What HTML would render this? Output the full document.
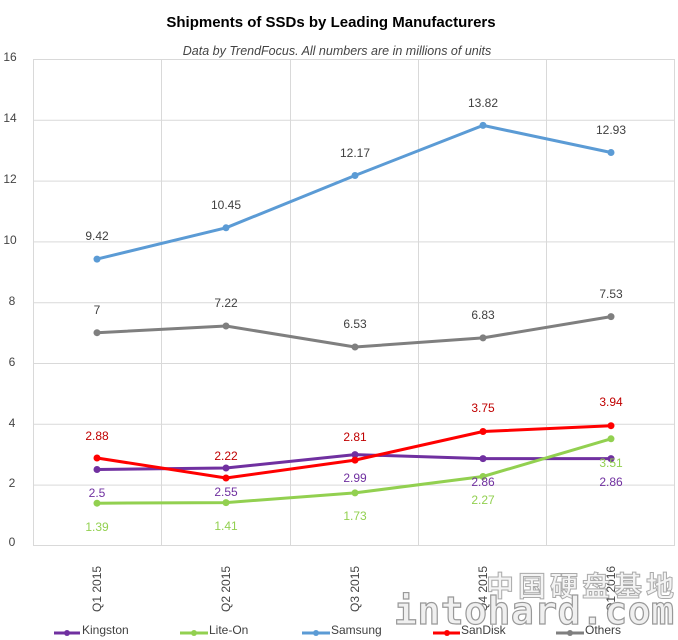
<!DOCTYPE html>
<html><head><meta charset="utf-8"><style>
body{margin:0;background:#fff;width:678px;height:640px;overflow:hidden}
svg{display:block;font-family:"Liberation Sans","Noto Sans CJK SC",sans-serif}
</style></head><body>
<svg width="678" height="640" viewBox="0 0 678 640">
<text x="331" y="27" text-anchor="middle" font-size="15" font-weight="bold" fill="#000">Shipments of SSDs by Leading Manufacturers</text>
<text x="337" y="55" text-anchor="middle" font-size="12.5" font-style="italic" fill="#444">Data by TrendFocus. All numbers are in millions of units</text>
<g stroke="#d9d9d9" stroke-width="1" fill="none">
<line x1="33" y1="59.5" x2="674" y2="59.5"/><line x1="33" y1="120.3" x2="674" y2="120.3"/><line x1="33" y1="181.1" x2="674" y2="181.1"/><line x1="33" y1="241.9" x2="674" y2="241.9"/><line x1="33" y1="302.7" x2="674" y2="302.7"/><line x1="33" y1="363.5" x2="674" y2="363.5"/><line x1="33" y1="424.3" x2="674" y2="424.3"/><line x1="33" y1="485.1" x2="674" y2="485.1"/><line x1="33" y1="545.5" x2="674" y2="545.5"/>
<line x1="33.5" y1="59" x2="33.5" y2="546"/><line x1="161.5" y1="59" x2="161.5" y2="546"/><line x1="290.5" y1="59" x2="290.5" y2="546"/><line x1="418.5" y1="59" x2="418.5" y2="546"/><line x1="546.5" y1="59" x2="546.5" y2="546"/><line x1="674.5" y1="59" x2="674.5" y2="546"/>
</g>
<g font-size="12" fill="#444" text-anchor="middle">
<text x="10" y="61">16</text><text x="10" y="122">14</text><text x="10" y="183">12</text><text x="10" y="244">10</text><text x="12" y="305">8</text><text x="12" y="366">6</text><text x="12" y="427">4</text><text x="12" y="487">2</text><text x="12" y="546">0</text>
</g>
<g font-size="12" fill="#444">
<text transform="translate(101,612) rotate(-90)">Q1 2015</text>
<text transform="translate(230,612) rotate(-90)">Q2 2015</text>
<text transform="translate(359,612) rotate(-90)">Q3 2015</text>
<text transform="translate(487,612) rotate(-90)">Q4 2015</text>
<text transform="translate(615,612) rotate(-90)">Q1 2016</text>
</g>
<g fill="none" stroke-width="3" stroke-linejoin="round">
<polyline stroke="#5b9bd5" points="97,259.1 226,227.8 355,175.5 483,125.4 611,152.5"/>
<polyline stroke="#7f7f7f" points="97,332.7 226,326 355,347 483,337.9 611,316.6"/>
<polyline stroke="#7030a0" points="97,469.5 226,468 355,454.6 483,458.6 611,458.6"/>
<polyline stroke="#ff0000" points="97,458 226,478 355,460.1 483,431.5 611,425.7"/>
<polyline stroke="#92d050" points="97,503.2 226,502.6 355,492.9 483,476.5 611,438.8"/>
</g>
<g fill="#5b9bd5"><circle cx="97" cy="259.1" r="3.5"/><circle cx="226" cy="227.8" r="3.5"/><circle cx="355" cy="175.5" r="3.5"/><circle cx="483" cy="125.4" r="3.5"/><circle cx="611" cy="152.5" r="3.5"/></g>
<g fill="#7f7f7f"><circle cx="97" cy="332.7" r="3.5"/><circle cx="226" cy="326" r="3.5"/><circle cx="355" cy="347" r="3.5"/><circle cx="483" cy="337.9" r="3.5"/><circle cx="611" cy="316.6" r="3.5"/></g>
<g fill="#7030a0"><circle cx="97" cy="469.5" r="3.5"/><circle cx="226" cy="468" r="3.5"/><circle cx="355" cy="454.6" r="3.5"/><circle cx="483" cy="458.6" r="3.5"/><circle cx="611" cy="458.6" r="3.5"/></g>
<g fill="#ff0000"><circle cx="97" cy="458" r="3.5"/><circle cx="226" cy="478" r="3.5"/><circle cx="355" cy="460.1" r="3.5"/><circle cx="483" cy="431.5" r="3.5"/><circle cx="611" cy="425.7" r="3.5"/></g>
<g fill="#92d050"><circle cx="97" cy="503.2" r="3.5"/><circle cx="226" cy="502.6" r="3.5"/><circle cx="355" cy="492.9" r="3.5"/><circle cx="483" cy="476.5" r="3.5"/><circle cx="611" cy="438.8" r="3.5"/></g>
<g font-size="12" text-anchor="middle">
<g fill="#404040"><text x="97" y="240">9.42</text><text x="226" y="209">10.45</text><text x="355" y="157">12.17</text><text x="483" y="107">13.82</text><text x="611" y="134">12.93</text>
<text x="97" y="314">7</text><text x="226" y="307">7.22</text><text x="355" y="328">6.53</text><text x="483" y="319">6.83</text><text x="611" y="298">7.53</text></g>
<g fill="#c00000"><text x="97" y="440">2.88</text><text x="226" y="460">2.22</text><text x="355" y="441">2.81</text><text x="483" y="412">3.75</text><text x="611" y="406">3.94</text></g>
<g fill="#7030a0"><text x="97" y="497">2.5</text><text x="226" y="496">2.55</text><text x="355" y="482">2.99</text><text x="483" y="486">2.86</text><text x="611" y="486">2.86</text></g>
<g fill="#92d050"><text x="97" y="531">1.39</text><text x="226" y="530">1.41</text><text x="355" y="520">1.73</text><text x="483" y="504">2.27</text><text x="611" y="467">3.51</text></g>
</g>
<g font-family="'Noto Sans CJK SC',sans-serif" font-weight="bold" fill="#f4f4f4" stroke="#aaa" stroke-width="1">
<text x="486" y="596" font-size="28" letter-spacing="4">中国硬盘基地</text>
</g>
<g font-family="'DejaVu Sans Mono',monospace" font-size="38" font-weight="bold" fill="#f0f0f0" stroke="#999" stroke-width="1.2">
<text x="394" y="624" letter-spacing="0.5">intohard.com</text>
</g>
<g stroke-width="3">
<line x1="54" y1="633" x2="80" y2="633" stroke="#7030a0"/><circle cx="67" cy="633" r="3" fill="#7030a0"/>
<line x1="180" y1="633" x2="208" y2="633" stroke="#92d050"/><circle cx="194" cy="633" r="3" fill="#92d050"/>
<line x1="302" y1="633" x2="330" y2="633" stroke="#5b9bd5"/><circle cx="316" cy="633" r="3" fill="#5b9bd5"/>
<line x1="433" y1="633" x2="460" y2="633" stroke="#ff0000"/><circle cx="447" cy="633" r="3" fill="#ff0000"/>
<line x1="556" y1="633" x2="584" y2="633" stroke="#7f7f7f"/><circle cx="570" cy="633" r="3" fill="#7f7f7f"/>
</g>
<g font-size="12" fill="#404040">
<text x="82" y="634">Kingston</text><text x="209" y="634">Lite-On</text><text x="331" y="634">Samsung</text><text x="461" y="634">SanDisk</text><text x="585" y="634">Others</text>
</g>
</svg>
</body></html>
